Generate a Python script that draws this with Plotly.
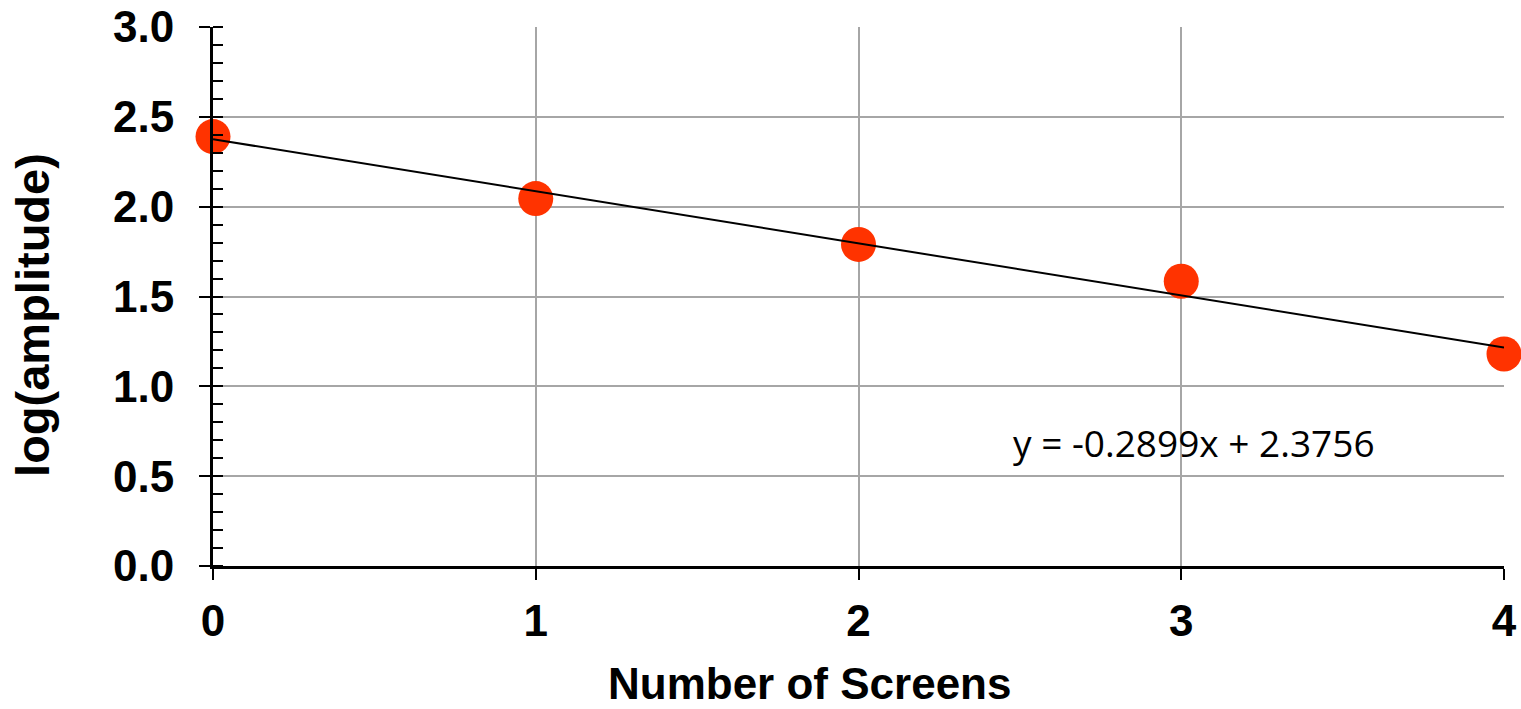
import plotly.graph_objects as go

# Measured log(amplitude) after each screen
screens = [0, 1, 2, 3, 4]
log_amp = [2.39, 2.045, 1.79, 1.585, 1.18]

# Linear fit reported on the chart
slope = -0.2899
intercept = 2.3756
fit_x = [0, 4]
fit_y = [intercept + slope * x for x in fit_x]
fit_label = "y = -0.2899x + 2.3756"

y_ticks = [0.0, 0.5, 1.0, 1.5, 2.0, 2.5, 3.0]
x_ticks = [0, 1, 2, 3, 4]

x_title = "Number of Screens"
y_title = "log(amplitude)"

fig = go.Figure()

fig.add_trace(go.Scatter(
    x=screens, y=log_amp, mode="markers",
    marker=dict(size=35, color="#FF3300", line=dict(width=0)),
    cliponaxis=False, showlegend=False,
))
fig.add_trace(go.Scatter(
    x=fit_x, y=fit_y, mode="lines",
    line=dict(color="black", width=2),
    cliponaxis=False, showlegend=False,
))

fig.add_annotation(
    x=3.04, y=0.685, xref="x", yref="y", text=fit_label, showarrow=False,
    font=dict(family="Open Sans, Lato, sans-serif", size=37, color="black"),
)

bold = "Liberation Sans, Arial, sans-serif"

# axis titles placed as annotations
fig.add_annotation(
    x=0.4617, y=-0.2175, xref="paper", yref="paper", text=f"<b>{x_title}</b>",
    showarrow=False, xanchor="center", yanchor="middle",
    font=dict(family=bold, size=44, color="black"),
)
fig.add_annotation(
    x=-0.1395, y=0.4657, xref="paper", yref="paper", text=f"<b>{y_title}</b>",
    showarrow=False, xanchor="center", yanchor="middle", textangle=-90,
    font=dict(family=bold, size=47, color="black"),
)

fig.update_layout(
    width=1521, height=709,
    margin=dict(l=213, r=17, t=27, b=143),
    paper_bgcolor="white", plot_bgcolor="white",
    xaxis=dict(
        range=[0, 4], tickvals=x_ticks, ticktext=[str(v) for v in x_ticks],
        showgrid=True, gridcolor="#A6A6A6", gridwidth=2,
        showline=True, linecolor="black", linewidth=3,
        ticks="outside", ticklen=11, tickwidth=2, tickcolor="black",
        ticklabelstandoff=3,
        tickfont=dict(family=bold, size=44, color="black", weight="bold"),
        zeroline=False, automargin=False,
    ),
    yaxis=dict(
        range=[0, 3.0], tickvals=y_ticks,
        ticktext=[f"{v:.1f}" for v in y_ticks],
        showgrid=True, gridcolor="#A6A6A6", gridwidth=2,
        showline=True, linecolor="black", linewidth=3,
        ticks="outside", ticklen=11, tickwidth=2, tickcolor="black",
        ticklabelstandoff=16,
        tickfont=dict(family=bold, size=44, color="black", weight="bold"),
        minor=dict(dtick=0.1, ticks="inside", ticklen=10, tickwidth=2,
                   tickcolor="black", showgrid=False),
        zeroline=False, automargin=False,
    ),
    yaxis2=dict(
        range=[0, 3.0], overlaying="y", side="left", anchor="x",
        tickvals=y_ticks, showticklabels=False, showgrid=False,
        ticks="inside", ticklen=10, tickwidth=2, tickcolor="black",
        showline=False, zeroline=False, automargin=False,
    ),
)

# empty trace so the overlay axis carries its inner major ticks
fig.add_trace(go.Scatter(x=[None], y=[None], yaxis="y2", showlegend=False,
                         hoverinfo="skip"))

fig.write_html("out.html")
